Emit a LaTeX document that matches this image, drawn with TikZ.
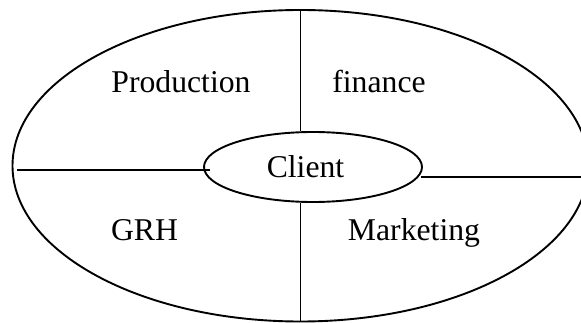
\documentclass[tikz,border=0pt]{standalone}
\usepackage{fontspec}
\setmainfont{Liberation Serif}
\usetikzlibrary{shapes.geometric}
\begin{document}
\begin{tikzpicture}[x=1pt,y=-1pt,
  ln/.style={line width=1.9pt,black},
  ell/.style={ellipse,draw,line width=1.9pt,inner sep=0pt},
  lbl/.style={anchor=base,inner sep=0pt,font=\fontsize{31.7}{36}\selectfont}]
\useasboundingbox (0,0) rectangle (581,323);
\node[ell,minimum width=576pt,minimum height=311.5pt] (outer) at (300.5,165.75) {};
\node[ell,minimum width=218pt,minimum height=70pt] (inner) at (313,167) {};
\coordinate (lw) at (17,170);
\coordinate (le) at (210,170);
\coordinate (rw) at (421,177.3);
\coordinate (re) at (585,177.3);
\draw[ln] (outer.north) -- (outer.north |- inner.north);
\draw[ln] (outer.north |- inner.south) -- (outer.south);
\draw[ln] (lw) -- (le);
\draw[ln] (rw) -- (re);
\node[lbl] (prod) at (181,92.7) {Production};
\node[lbl] (fin) at (379,92.7) {finance};
\node[lbl] (cli) at (305.5,177.3) {Client};
\node[lbl] (grh) at (144.5,240.7) {GRH};
\node[lbl] (mkt) at (414,240.7) {Marketing};
\end{tikzpicture}
\end{document}
